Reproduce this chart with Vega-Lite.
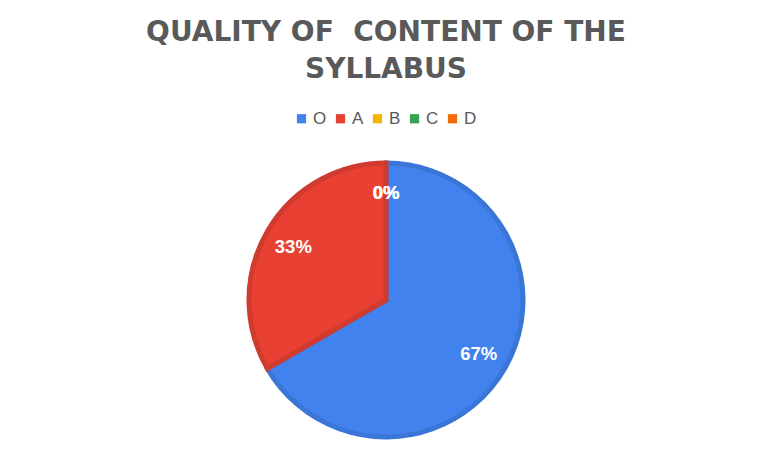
{
  "$schema": "https://vega.github.io/schema/vega-lite/v6.json",
  "autosize": {"type": "none"},
  "width": 280,
  "height": 280,
  "padding": {"top": 160, "left": 246, "right": 242, "bottom": 23},
  "background": "white",
  "title": {
    "text": ["QUALITY OF\u00a0 CONTENT OF THE", "SYLLABUS"],
    "font": "DejaVu Sans",
    "fontSize": 28,
    "fontWeight": "bold",
    "color": "#595959",
    "lineHeight": 37,
    "anchor": "middle",
    "offset": 26
  },
  "data": {
    "values": [
      {"grade": "O", "count": 2, "label": "67%", "idx": 1},
      {"grade": "A", "count": 1, "label": "33%", "idx": 2},
      {"grade": "B", "count": 0, "label": "0%", "idx": 3},
      {"grade": "C", "count": 0, "label": "0%", "idx": 4},
      {"grade": "D", "count": 0, "label": "0%", "idx": 5}
    ]
  },
  "encoding": {
    "theta": {"field": "count", "type": "quantitative", "stack": true},
    "order": {"field": "idx", "type": "quantitative"}
  },
  "layer": [
    {
      "transform": [{"filter": "datum.count > 0"}],
      "mark": {"type": "arc", "outerRadius": 137, "strokeWidth": 5, "strokeJoin": "miter"},
      "encoding": {
        "color": {
          "field": "grade",
          "type": "nominal",
          "scale": {
            "domain": ["O", "A", "B", "C", "D"],
            "range": ["#4282ee", "#e84133", "#f4b400", "#36a352", "#f16a0c"]
          },
          "legend": {
            "orient": "none",
            "legendX": 47,
            "legendY": -50,
            "direction": "horizontal",
            "title": null,
            "symbolType": "square",
            "symbolSize": 85,
            "symbolStrokeWidth": 0,
            "labelFont": "Liberation Sans",
            "labelFontSize": 17,
            "labelColor": "#595959",
            "columnPadding": 5,
            "labelOffset": 3,
            "values": ["O", "A", "B", "C", "D"]
          }
        },
        "stroke": {
          "field": "grade",
          "type": "nominal",
          "scale": {
            "domain": ["O", "A", "B", "C", "D"],
            "range": ["#3a76d6", "#d03b2f", "#dca200", "#2f9148", "#d95f0a"]
          },
          "legend": null
        }
      }
    },
    {
      "mark": {
        "type": "text",
        "radius": 107,
        "font": "Liberation Sans",
        "fontSize": 18.5,
        "fontWeight": "bold",
        "color": "white"
      },
      "encoding": {
        "text": {"field": "label", "type": "nominal"}
      }
    }
  ],
  "config": {"view": {"stroke": null}}
}
